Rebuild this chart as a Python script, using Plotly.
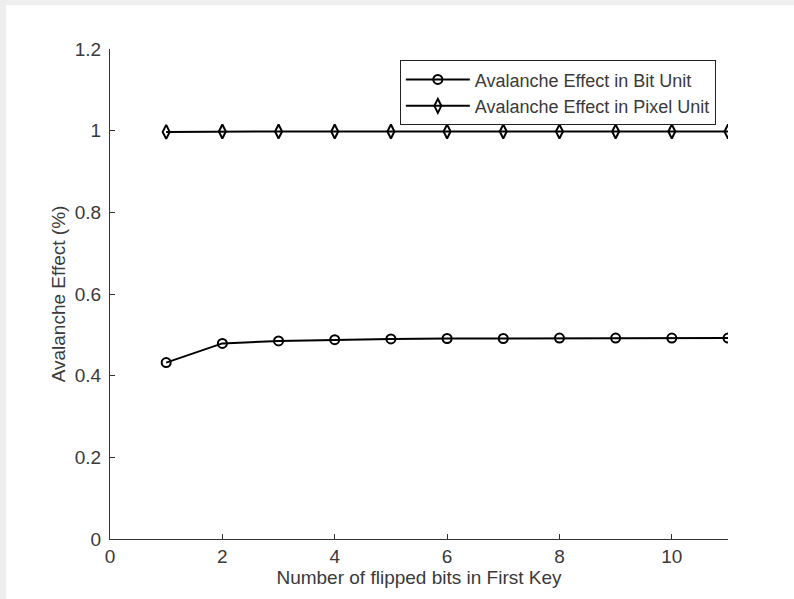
import plotly.graph_objects as go

x_vals = [1, 2, 3, 4, 5, 6, 7, 8, 9, 10, 11]
bit_unit = [0.432, 0.479, 0.485, 0.488, 0.490, 0.491, 0.491, 0.492, 0.492, 0.492, 0.492]
pixel_unit = [0.997, 0.998, 0.998, 0.998, 0.998, 0.998, 0.998, 0.998, 0.998, 0.998, 0.998]
series_names = ["Avalanche Effect in Bit Unit", "Avalanche Effect in Pixel Unit"]
x_ticks = [0, 2, 4, 6, 8, 10]
y_ticks = [0, 0.2, 0.4, 0.6, 0.8, 1, 1.2]
y_tick_text = ["0", "0.2", "0.4", "0.6", "0.8", "1", "1.2"]

font = "Liberation Sans, Arial, sans-serif"
txt = "#3a3a3a"

fig = go.Figure()
fig.add_trace(go.Scatter(
    x=x_vals, y=bit_unit, name=series_names[0], mode="lines+markers",
    line=dict(color="black", width=2),
    marker=dict(symbol="circle-open", size=9, color="black", line=dict(width=2)),
))
fig.add_trace(go.Scatter(
    x=x_vals, y=pixel_unit, name=series_names[1], mode="lines+markers",
    line=dict(color="black", width=2),
    marker=dict(symbol="diamond-tall-open", size=10, color="black", line=dict(width=2)),
))

fig.update_layout(
    width=794, height=599,
    margin=dict(l=110, r=66, t=49, b=60),
    paper_bgcolor="white", plot_bgcolor="white",
    font=dict(family=font, size=19, color=txt),
    showlegend=True,
    legend=dict(
        x=0.469, y=0.977, xanchor="left", yanchor="top",
        bordercolor="#222222", borderwidth=1, bgcolor="white",
        font=dict(size=18, color=txt),
        tracegroupgap=0, itemwidth=64,
    ),
    shapes=[
        dict(type="rect", xref="paper", yref="paper", x0=-0.178, x1=-0.168, y0=-0.2, y1=1.2,
             fillcolor="#eeeeee", line=dict(width=0), layer="below"),
        dict(type="rect", xref="paper", yref="paper", x0=-0.2, x1=1.2, y0=1.0898, y1=1.2,
             fillcolor="#eeeeee", line=dict(width=0), layer="below"),
    ],
)
fig.update_xaxes(
    range=[0, 11], tickvals=x_ticks, ticks="inside", ticklen=5, tickcolor="#333333",
    showline=True, linecolor="#333333", linewidth=1, showgrid=False, zeroline=False,
    tickfont=dict(size=19, color=txt), ticklabelstandoff=0,
    title=dict(text="Number of flipped bits in First Key", font=dict(size=19, color=txt), standoff=2),
)
fig.update_yaxes(
    range=[0, 1.2], tickvals=y_ticks, ticktext=y_tick_text, ticks="inside", ticklen=5,
    tickcolor="#333333",
    showline=True, linecolor="#333333", linewidth=1, showgrid=False, zeroline=False,
    tickfont=dict(size=19, color=txt), ticklabelstandoff=4,
    title=dict(text="Avalanche Effect (%)", font=dict(size=19, color=txt), standoff=4),
)

fig.write_html("out.html")
